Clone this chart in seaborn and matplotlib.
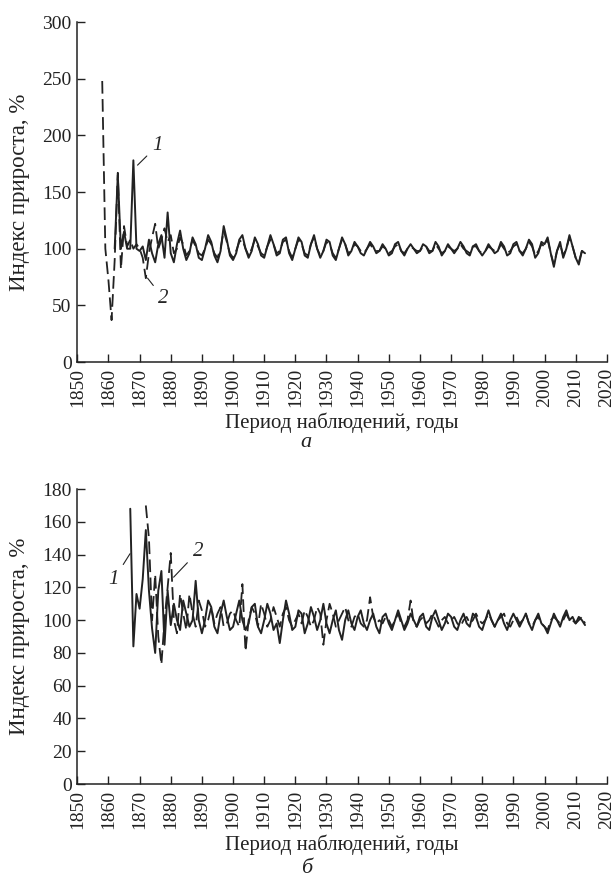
import matplotlib
matplotlib.use('Agg')
import matplotlib.pyplot as plt
import pandas as pd
import seaborn as sns
import numpy as np

# Panel "a": index of growth, series 1 (solid) and 2 (dashed)
start_1a = 1862
idx_1a = [100, 165, 100, 115, 100, 100, 178, 100,
          98, 102, 90, 108, 96, 88, 104, 112, 92, 132,
          96, 88, 104, 116, 100, 90, 96, 110, 104, 92,
          90, 100, 112, 106, 94, 88, 98, 120, 108, 94,
          90, 96, 108, 112, 100, 92, 98, 110, 104, 94,
          92, 102, 112, 104, 94, 96, 108, 110, 96, 90,
          100, 110, 106, 94, 92, 104, 112, 100, 92, 98,
          108, 106, 94, 90, 100, 110, 104, 94, 98, 106,
          102, 96, 94, 100, 106, 102, 96, 98, 104, 100,
          94, 96, 104, 106, 98, 94, 100, 104, 100, 96,
          98, 104, 102, 96, 98, 106, 102, 94, 98, 104,
          100, 96, 100, 106, 102, 96, 94, 102, 104, 98,
          94, 98, 104, 100, 96, 98, 106, 102, 94, 96,
          104, 106, 98, 94, 100, 108, 104, 92, 96, 106,
          104, 110, 96, 84, 98, 106, 92, 100, 112, 102,
          92, 86, 98, 96]

start_2a = 1858
idx_2a = [248, 100, 72, 37, 90, 167, 82, 120, 102, 108, 100, 104,
          100, 92, 74, 96, 110, 122, 100, 108, 118, 106,
          112, 96, 100, 110, 104, 94, 98, 108, 102, 96,
          94, 100, 108, 104, 96, 92, 100, 116, 106, 96,
          92, 98, 106, 108, 100, 94, 100, 108, 102, 96,
          94, 102, 108, 104, 96, 98, 106, 108, 98, 92,
          100, 108, 104, 96, 94, 104, 110, 100, 94, 98,
          106, 104, 96, 92, 100, 108, 104, 96, 98, 104,
          102, 98, 96, 100, 104, 100, 98, 98, 102, 100,
          96, 98, 102, 104, 98, 96, 100, 102, 100, 98,
          98, 102, 102, 98, 98, 104, 100, 96, 98, 102,
          100, 98, 100, 104, 100, 98, 96, 102, 102, 98,
          96, 98, 102, 100, 98, 98, 104, 100, 96, 98,
          102, 104, 98, 96, 100, 106, 102, 94, 98, 104,
          102, 108, 96, 86, 98, 104, 94, 100, 110, 102,
          92, 88, 98, 97]

# Panel "б"
start_1b = 1867
idx_1b = [168, 84, 116,
          107, 125, 155, 118, 95, 80, 118, 130, 85, 118,
          97, 110, 100, 94, 112, 104, 96, 100, 124, 100,
          92, 100, 112, 108, 96, 92, 104, 112, 102, 94,
          96, 104, 112, 100, 94, 98, 108, 110, 96, 92,
          100, 110, 104, 94, 98, 86, 100, 112, 104, 94,
          96, 106, 104, 92, 98, 108, 102, 94, 100, 110,
          98, 92, 100, 106, 94, 88, 100, 106, 98, 94,
          102, 106, 98, 94, 100, 104, 96, 92, 102, 104,
          98, 94, 100, 106, 100, 94, 98, 104, 100, 96,
          102, 104, 96, 94, 102, 106, 100, 94, 98, 104,
          102, 96, 94, 100, 104, 98, 96, 104, 102, 96,
          94, 100, 106, 100, 96, 100, 104, 98, 94, 100,
          104, 100, 96, 100, 104, 98, 94, 100, 104, 98,
          96, 92, 98, 104, 100, 96, 102, 106, 100, 102,
          98, 102, 100, 97]

start_2b = 1872
idx_2b = [170, 150, 100, 128, 90, 73, 100, 120,
          141, 100, 92, 116, 104, 94, 116, 104, 96, 112,
          106, 96, 100, 108, 98, 104, 108, 96, 98, 104,
          106, 100, 96, 122, 81, 100, 108, 104, 96, 110,
          104, 96, 100, 108, 102, 96, 104, 108, 100, 96,
          100, 104, 98, 106, 102, 96, 100, 108, 104, 85,
          100, 110, 104, 96, 100, 104, 108, 100, 96, 102,
          104, 98, 96, 100, 114, 102, 98, 100, 98, 102,
          100, 96, 100, 104, 98, 96, 100, 112, 98, 96,
          100, 102, 98, 100, 104, 100, 96, 100, 102, 98,
          100, 102, 98, 96, 100, 102, 98, 100, 104, 100,
          98, 100, 104, 100, 96, 100, 102, 104, 98, 96,
          100, 102, 98, 100, 104, 98, 96, 100, 102, 98,
          96, 94, 100, 102, 100, 98, 100, 104, 100, 100,
          98, 100, 102, 98]


def frame(start, vals):
    return pd.DataFrame({'year': np.arange(start, start + len(vals)), 'idx': vals})


sns.set_style('ticks')
plt.rcParams['font.family'] = ['Liberation Serif', 'DejaVu Serif']

ink = '#222222'
fig = plt.figure(figsize=(6.15, 8.83), dpi=100)
ax_a = fig.add_axes([0.1257, 0.590, 0.861, 0.385])
ax_b = fig.add_axes([0.1257, 0.1121, 0.861, 0.334])

sns.lineplot(data=frame(start_1a, idx_1a), x='year', y='idx', ax=ax_a, color=ink, lw=1.4)
sns.lineplot(data=frame(start_2a, idx_2a), x='year', y='idx', ax=ax_a, color=ink, lw=1.3,
             linestyle=(0, (7, 3)))
sns.lineplot(data=frame(start_1b, idx_1b), x='year', y='idx', ax=ax_b, color=ink, lw=1.4)
sns.lineplot(data=frame(start_2b, idx_2b), x='year', y='idx', ax=ax_b, color=ink, lw=1.3,
             linestyle=(0, (7, 3)))

for ax, top, step in [(ax_a, 300, 50), (ax_b, 180, 20)]:
    ax.set_xlim(1850, 2020)
    ax.set_ylim(0, top)
    ax.set_xticks(range(1850, 2021, 10))
    ax.set_yticks(range(0, top + 1, step))
    ax.tick_params(direction='in', length=6, width=1, labelsize=14, colors=ink, pad=4)
    ax.tick_params(axis='x', rotation=90)
    sns.despine(ax=ax)
    for s in ['left', 'bottom']:
        ax.spines[s].set_linewidth(1.1)
        ax.spines[s].set_color(ink)
    ax.set_xlabel('Период наблюдений, годы', fontsize=15, color=ink, labelpad=4)
    ax.set_ylabel('Индекс прироста, %', fontsize=16.5, color=ink)
    ax.yaxis.set_label_coords(-0.09, 0.5)

# curve numbers with leader lines
lead = dict(arrowstyle='-', color=ink, lw=0.8)
ax_a.annotate('1', xy=(1868.7, 172), xytext=(1874, 187), fontsize=15, style='italic', arrowprops=lead)
ax_a.annotate('2', xy=(1872, 76), xytext=(1876, 52), fontsize=15, style='italic', arrowprops=lead)
ax_b.annotate('1', xy=(1867.4, 142), xytext=(1860, 122), fontsize=15, style='italic', arrowprops=lead)
ax_b.annotate('2', xy=(1880.3, 125), xytext=(1887, 139), fontsize=15, style='italic', arrowprops=lead)

fig.text(0.498, 0.494, 'а', fontsize=16, style='italic', ha='center', color=ink)
fig.text(0.498, 0.011, 'б', fontsize=16, style='italic', ha='center', color=ink)

plt.savefig('out.png', dpi=100)
